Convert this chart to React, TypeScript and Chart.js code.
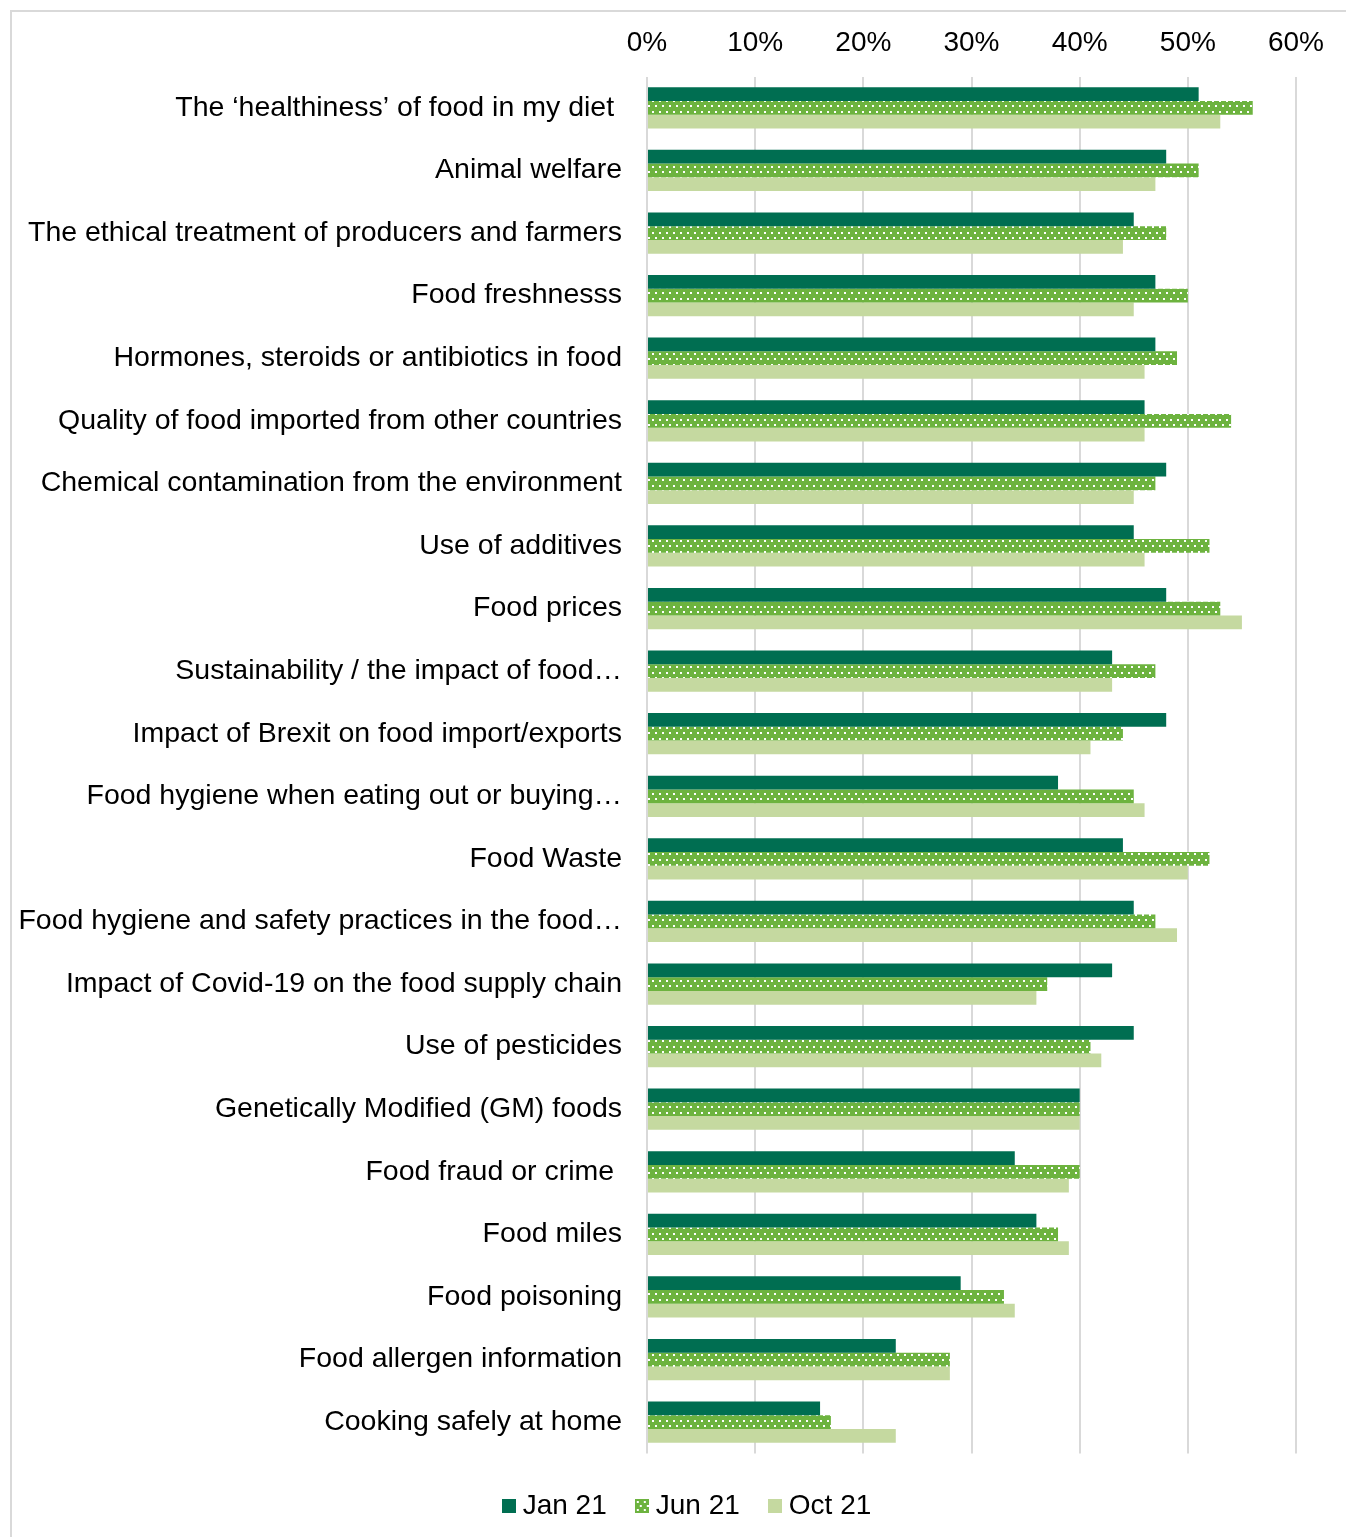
import { useEffect, useRef } from 'react';
import { Chart, registerables } from 'chart.js';

Chart.register(...registerables);

const categories = [
  'The \u2018healthiness\u2019 of food in my diet ',
  'Animal welfare',
  'The ethical treatment of producers and farmers',
  'Food freshnesss',
  'Hormones, steroids or antibiotics in food',
  'Quality of food imported from other countries',
  'Chemical contamination from the environment',
  'Use of additives',
  'Food prices',
  'Sustainability / the impact of food\u2026',
  'Impact of Brexit on food import/exports',
  'Food hygiene when eating out or buying\u2026',
  'Food Waste',
  'Food hygiene and safety practices in the food\u2026',
  'Impact of Covid-19 on the food supply chain',
  'Use of pesticides',
  'Genetically Modified (GM) foods',
  'Food fraud or crime ',
  'Food miles',
  'Food poisoning',
  'Food allergen information',
  'Cooking safely at home',
];

const seriesNames = ['Jan 21', 'Jun 21', 'Oct 21'];

const jan21 = [51, 48, 45, 47, 47, 46, 48, 45, 48, 43, 48, 38, 44, 45, 43, 45, 40, 34, 36, 29, 23, 16];
const jun21 = [56, 51, 48, 50, 49, 54, 47, 52, 53, 47, 44, 45, 52, 47, 37, 41, 40, 40, 38, 33, 28, 17];
const oct21 = [53, 47, 44, 45, 46, 46, 45, 46, 55, 43, 41, 46, 50, 49, 36, 42, 40, 39, 39, 34, 28, 23];

const xTicks = [0, 10, 20, 30, 40, 50, 60];

const FONT = 'Liberation Sans, Arial, sans-serif';
const LEGEND_SHIFT = 37;

export default function App() {
  const ref = useRef<HTMLCanvasElement>(null);

  useEffect(() => {
    const canvas = ref.current;
    if (!canvas) return;
    const ctx = canvas.getContext('2d')!;

    const pc = document.createElement('canvas');
    pc.width = 7;
    pc.height = 11;
    const pctx = pc.getContext('2d')!;
    pctx.fillStyle = '#6DB33F';
    pctx.fillRect(0, 0, 7, 11);
    pctx.fillStyle = '#ffffff';
    pctx.fillRect(1, 1, 2, 2);
    pctx.fillRect(4, 6, 2, 2);
    const pattern = ctx.createPattern(pc, 'repeat')!;

    const makeSwatch = (fill: any) => {
      const c = document.createElement('canvas');
      c.width = 14;
      c.height = 14;
      const cx = c.getContext('2d')!;
      cx.fillStyle = fill;
      cx.fillRect(0, 0, 14, 14);
      return c;
    };
    const swatchPattern = (() => {
      const c = document.createElement('canvas');
      c.width = 14;
      c.height = 14;
      const cx = c.getContext('2d')!;
      cx.fillStyle = '#6DB33F';
      cx.fillRect(0, 0, 14, 14);
      cx.fillStyle = '#ffffff';
      [[2, 2], [9, 2], [5, 6], [12, 6], [2, 10], [9, 10]].forEach(([x, y]) => cx.fillRect(x, y, 2, 2));
      return c;
    })();
    const swatches = [makeSwatch('#006E51'), swatchPattern, makeSwatch('#C5D9A0')];

    const shiftLegend = {
      id: 'shiftLegend',
      afterLayout(chart: any) {
        if (chart.legend) {
          chart.legend.left += LEGEND_SHIFT;
          chart.legend.right += LEGEND_SHIFT;
        }
      },
    };

    const chart = new Chart(ctx, {
      type: 'bar',
      data: {
        labels: categories,
        datasets: [
          { label: seriesNames[0], data: jan21, backgroundColor: '#006E51', borderWidth: 0 },
          { label: seriesNames[1], data: jun21, backgroundColor: pattern as any, borderWidth: 0 },
          { label: seriesNames[2], data: oct21, backgroundColor: '#C5D9A0', borderWidth: 0 },
        ],
      },
      plugins: [shiftLegend],
      options: {
        indexAxis: 'y',
        responsive: false,
        animation: false,
        devicePixelRatio: 1,
        datasets: { bar: { categoryPercentage: 0.66, barPercentage: 1 } },
        layout: { padding: { left: 10, right: 50, top: 9, bottom: 7 } },
        plugins: {
          tooltip: { enabled: false },
          legend: {
            position: 'bottom',
            title: { display: true, text: ' ', padding: 0, font: { size: 3 } },
            labels: {
              usePointStyle: true,
              pointStyleWidth: 0.01,
              boxHeight: 14,
              padding: 35,
              color: '#000',
              font: { family: FONT, size: 28 },
              generateLabels: (chart: any) => {
                const items = Chart.defaults.plugins.legend.labels.generateLabels(chart);
                items.forEach((it: any, i: number) => {
                  it.pointStyle = swatches[i];
                });
                return items;
              },
            },
          },
        },
        scales: {
          x: {
            position: 'top',
            min: xTicks[0],
            max: xTicks[xTicks.length - 1],
            afterBuildTicks: (s: any) => {
              s.ticks = xTicks.map((v) => ({ value: v }));
            },
            ticks: {
              callback: (v: any) => v + '%',
              color: '#000',
              font: { family: FONT, size: 28 },
              padding: 17,
            },
            grid: { color: '#d9d9d9', lineWidth: 2, drawTicks: false, tickLength: 0 },
            border: { display: false },
          },
          y: {
            ticks: {
              autoSkip: false,
              color: '#000',
              font: { family: FONT, size: 28.5 },
              padding: 25,
            },
            grid: { display: false, drawTicks: false, tickLength: 0 },
            border: { display: false },
            afterFit: (s: any) => {
              s.width = 647 - 10;
            },
          },
        },
      },
    });
    return () => chart.destroy();
  }, []);

  return (
    <div style={{ position: 'fixed', left: 0, top: 0, width: 1346, height: 1537, overflow: 'hidden', background: '#fff' }}>
      <div
        style={{
          position: 'absolute',
          left: 10,
          top: 10,
          width: 1400,
          height: 1600,
          borderTop: '2px solid #d9d9d9',
          borderLeft: '2px solid #d9d9d9',
        }}
      />
      <canvas ref={ref} width={1346} height={1537} style={{ position: 'absolute', left: 0, top: 0 }} />
    </div>
  );
}
